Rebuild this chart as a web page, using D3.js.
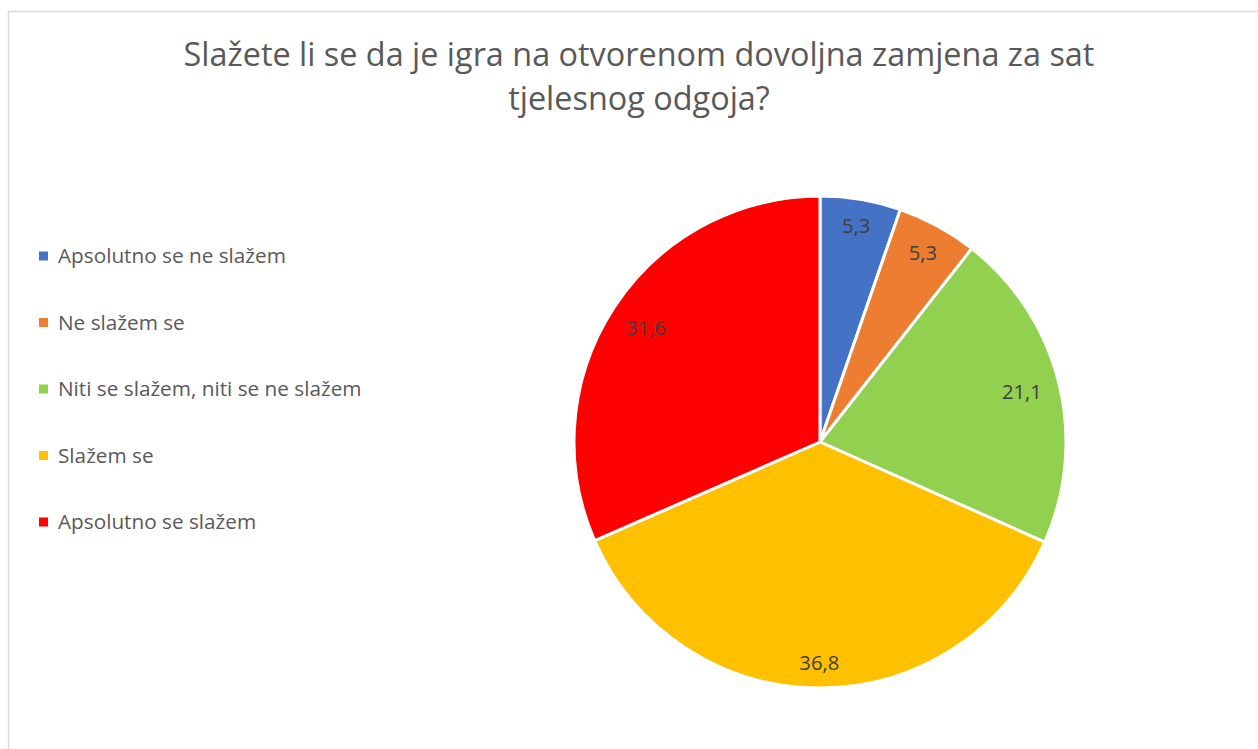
<!DOCTYPE html>
<html>
<head>
<meta charset="utf-8">
<script src="https://cdn.jsdelivr.net/npm/d3@7/dist/d3.min.js"></script>
<style>
  html, body { margin: 0; padding: 0; background: #fff; }
  svg { display: block; }
  text { font-family: "Open Sans", "Liberation Sans", sans-serif; }
</style>
</head>
<body>
<svg id="chart" width="1258" height="749"></svg>
<script>
const titleLines = ["Slažete li se da je igra na otvorenom dovoljna zamjena za sat", "tjelesnog odgoja?"];
const categories = ["Apsolutno se ne slažem", "Ne slažem se", "Niti se slažem, niti se ne slažem", "Slažem se", "Apsolutno se slažem"];
const values = [5.3, 5.3, 21.1, 36.8, 31.6];
const colors = ["#4472C4", "#ED7D31", "#92D050", "#FFC000", "#FF0000"];

const W = 1258, H = 749;
const svg = d3.select("#chart");

// border
svg.append("rect").attr("x", 8.5).attr("y", 11.5).attr("width", W).attr("height", H)
  .attr("fill", "#fff").attr("stroke", "#d9d9d9").attr("stroke-width", 1.5);

function fitWidth(sel, target) {
  const fs = parseFloat(sel.attr("font-size"));
  const w = sel.node().getComputedTextLength();
  sel.attr("font-size", (fs * target / w).toFixed(2));
}

// title
const titleBase = [66, 110];
const t0 = svg.append("text").attr("x", 639).attr("y", titleBase[0]).attr("text-anchor", "middle")
  .attr("font-size", 30).attr("fill", "#595959").text(titleLines[0]);
fitWidth(t0, 911);
const tfs = t0.attr("font-size");
svg.append("text").attr("x", 639).attr("y", titleBase[1]).attr("text-anchor", "middle")
  .attr("font-size", tfs).attr("fill", "#595959").text(titleLines[1]);

// pie
const cx = 820, cy = 442, R = 246;
const pie = d3.pie().sort(null).value(d => d);
const arcs = pie(values);
const arc = d3.arc().innerRadius(0).outerRadius(R);
const g = svg.append("g").attr("transform", `translate(${cx},${cy})`);
g.selectAll("path").data(arcs).join("path")
  .attr("d", arc)
  .attr("fill", (d, i) => colors[i])
  .attr("stroke", "#fff").attr("stroke-width", 3).attr("stroke-linejoin", "round");

// labels (inside end)
const fmt = v => d3.format(".1f")(v).replace(".", ",");
// common label font size fitted from the widest label
const probe = g.append("text").attr("font-size", 19).text(fmt(21.1));
fitWidth(probe, 40);
const lblFs = probe.attr("font-size");
probe.remove();
arcs.forEach((d, i) => {
  const t = g.append("text").attr("font-size", lblFs).attr("fill", "#404040")
    .attr("text-anchor", "middle").text(fmt(d.data));
  const bb = t.node().getBBox();
  const hw = bb.width / 2 + 2, hh = 10;
  const a = (d.startAngle + d.endAngle) / 2;
  const s = Math.sin(a), c = -Math.cos(a);
  const lim = R - 14;
  let r = lim;
  for (; r > 0; r -= 0.5) {
    const x = s * r, y = c * r;
    const corners = [[x - hw, y - hh], [x + hw, y - hh], [x - hw, y + hh], [x + hw, y + hh]];
    if (corners.every(p => Math.hypot(p[0], p[1]) <= lim)) break;
  }
  t.attr("x", s * r).attr("y", c * r).attr("dy", "0.35em");
});

// legend
const legend = svg.append("g");
const ly = d3.scalePoint().domain(categories).range([256, 522]);
categories.forEach((cat, i) => {
  const y = ly(cat);
  legend.append("rect").attr("x", 39).attr("y", y - 4.5).attr("width", 9).attr("height", 9).attr("fill", colors[i]);
  const t = legend.append("text").attr("x", 58).attr("y", y).attr("dy", "0.35em")
    .attr("font-size", 18).attr("fill", "#595959").text(cat);
  if (i === 0) { fitWidth(t, 228); }
});
const lfs = legend.select("text").attr("font-size");
legend.selectAll("text").attr("font-size", lfs);
</script>
</body>
</html>
